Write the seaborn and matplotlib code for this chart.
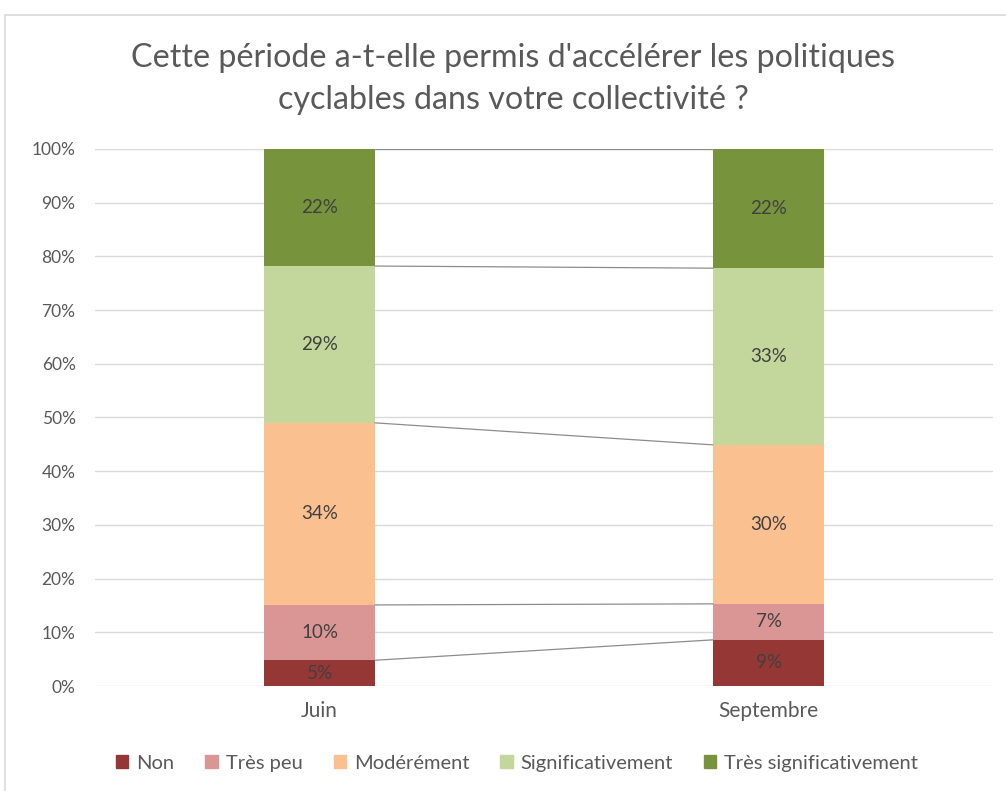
import numpy as np
import pandas as pd
import matplotlib.pyplot as plt
from matplotlib.patches import Rectangle
import seaborn as sns

# data (percent)
periods = ["Juin", "Septembre"]
series = ["Non", "Très peu", "Modérément", "Significativement", "Très significativement"]
non = [4.8, 8.6]
tres_peu = [10.3, 6.7]
moderement = [33.9, 29.6]
significativement = [29.2, 32.9]
tres_signif = [21.8, 22.2]
colors = ["#953735", "#D99694", "#FAC090", "#C3D69B", "#77933C"]

title = "Cette période a-t-elle permis d'accélérer les politiques\ncyclables dans votre collectivité ?"

sns.set_theme(style="white")
plt.rcParams["font.family"] = ["Lato", "DejaVu Sans"]

df = pd.DataFrame([non, tres_peu, moderement, significativement, tres_signif],
                  index=series, columns=periods)
cum = df.cumsum()

fig = plt.figure(figsize=(10.06, 7.91), dpi=100)
ax = fig.add_axes([0.0944, 0.1327, 0.8927, 0.679])

bw = 0.247
# draw cumulative bars from the top series down so lower ones cover upper ones
for name, col in reversed(list(zip(series, colors))):
    sns.barplot(x=periods, y=cum.loc[name].values, color=col, width=bw,
                saturation=1, ax=ax, zorder=2, linewidth=0)

# segment labels
for name in series:
    for i, p in enumerate(periods):
        v = df.loc[name, p]
        ax.text(i, cum.loc[name, p] - v / 2, f"{round(v)}%", ha="center", va="center",
                fontsize=13.5, color="#404040", zorder=4)

# series lines between the bars
for name in series:
    ax.plot([0 + bw / 2, 1 - bw / 2], cum.loc[name].values, color="#8c8c8c",
            lw=0.9, zorder=3)

ax.set_xlim(-0.5, 1.5)
ax.set_ylim(0, 100)
ax.set_yticks(np.arange(0, 101, 10))
ax.set_yticklabels([f"{t}%" for t in range(0, 101, 10)])
ax.yaxis.grid(True, color="#d9d9d9", lw=1, zorder=0)
ax.set_axisbelow(True)
for s in ax.spines.values():
    s.set_visible(False)
ax.tick_params(axis="y", length=0, pad=14, labelsize=12.5, labelcolor="#595959")
ax.tick_params(axis="x", length=0, pad=11, labelsize=15, labelcolor="#595959")
ax.set_xlabel("")
ax.set_ylabel("")

fig.text(0.51, 0.9, title, ha="center", va="center", fontsize=23.2,
         color="#595959", linespacing=1.5)

handles = [Rectangle((0, 0), 1, 1, color=c) for c in colors]
fig.legend(handles, series, loc="center", bbox_to_anchor=(0.514, 0.035), ncol=5,
           frameon=False, fontsize=14.5, labelcolor="#595959", handlelength=0.6,
           handleheight=0.6, handletextpad=0.4, columnspacing=1.55)

fig.add_artist(Rectangle((5 / 1006, -0.02), 1.1, 1.02 - 15 / 791,
                         transform=fig.transFigure, fill=False,
                         edgecolor="#d9d9d9", lw=1.2))

fig.savefig("out.png", dpi=100)
